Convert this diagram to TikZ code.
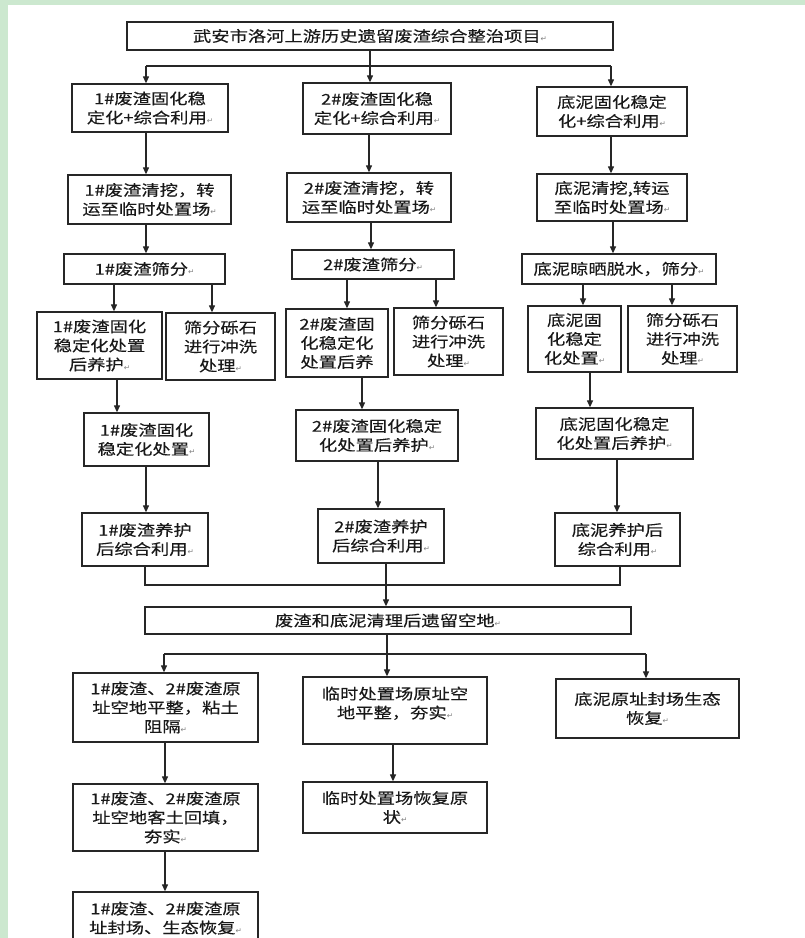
\documentclass[tikz,border=0pt]{standalone}
\usepackage{fontspec}
\newfontfamily\cjk[FakeStretch=1.22,FakeBold=0.3]{Noto Sans CJK SC}
\newfontfamily\symf{DejaVu Sans}
\usetikzlibrary{arrows.meta}
\definecolor{bandgreen}{RGB}{204,232,207}
\newcommand{\parmk}{{\symf\fontsize{7.5}{7.5}\selectfont\color{black!50}↵}}
\newcommand\bx[6]{\node[box,minimum width={#4pt-#2pt},minimum height={#5pt-#3pt}] (#1) at ({(#2+#4)/2},{(#3+#5)/2}) {#6};}
\begin{document}
\begin{tikzpicture}[x=1pt,y=-1pt,
  box/.style={draw=black!85, line width=1.3pt, fill=white, align=center, inner sep=0pt,
    font=\cjk\fontsize{15}{19}\selectfont, text=black!90},
  arr/.style={draw=black!85, line width=1.2pt, -{Triangle[length=7pt,width=6pt]}},
  ln/.style={draw=black!85, line width=1.2pt}]
\useasboundingbox (0,0) rectangle (805,938);
\fill[white] (0,0) rectangle (805,938);
\clip (0,0) rectangle (805,938);
\fill[bandgreen] (0,0) rectangle (8,938);
\fill[bandgreen] (0,0) rectangle (805,5);

% boxes
\bx{top}{127}{22}{613}{50}{武安市洛河上游历史遗留废渣综合整治项目\parmk}
\bx{A1}{72}{84}{228}{132}{1\#废渣固化稳\\定化+综合利用\parmk}
\bx{B1}{303}{83}{451}{134}{2\#废渣固化稳\\定化+综合利用\parmk}
\bx{C1}{537}{87}{687}{136}{底泥固化稳定\\化+综合利用\parmk}
\bx{A2}{68}{175}{231}{224}{1\#废渣清挖，转\\运至临时处置场\parmk}
\bx{B2}{287}{173}{451}{222}{2\#废渣清挖，转\\运至临时处置场\parmk}
\bx{C2}{537}{174}{687}{221}{底泥清挖,转运\\至临时处置场\parmk}
\bx{A3}{64}{254}{225}{284}{1\#废渣筛分\parmk}
\bx{B3}{292}{250}{454}{279}{2\#废渣筛分\parmk}
\bx{C3}{522}{254}{716}{284}{底泥晾晒脱水，筛分\parmk}
\bx{A4}{37}{312}{162}{379}{1\#废渣固化\\稳定化处置\\后养护\parmk}
\bx{A5}{166}{313}{275}{380}{筛分砾石\\进行冲洗\\处理\parmk}
\bx{B4}{286}{309}{388}{377}{2\#废渣固\\化稳定化\\处置后养}
\bx{B5}{394}{308}{503}{375}{筛分砾石\\进行冲洗\\处理\parmk}
\bx{C4}{528}{306}{621}{372}{底泥固\\化稳定\\化处置\parmk}
\bx{C5}{628}{306}{737}{372}{筛分砾石\\进行冲洗\\处理\parmk}
\bx{A6}{84}{413}{209}{466}{1\#废渣固化\\稳定化处置\parmk}
\bx{B6}{296}{410}{458}{461}{2\#废渣固化稳定\\化处置后养护\parmk}
\bx{C6}{536}{408}{693}{459}{底泥固化稳定\\化处置后养护\parmk}
\bx{A7}{82}{513}{208}{566}{1\#废渣养护\\后综合利用\parmk}
\bx{B7}{318}{509}{444}{563}{2\#废渣养护\\后综合利用\parmk}
\bx{C7}{555}{513}{680}{566}{底泥养护后\\综合利用\parmk}
\bx{D}{145}{607}{631}{634}{废渣和底泥清理后遗留空地\parmk}
\bx{E1}{73}{673}{258}{742}{1\#废渣、2\#废渣原\\址空地平整，粘土\\阻隔\parmk}
\bx{E2}{303}{677}{487}{744}{临时处置场原址空\\地平整，夯实\parmk\\[-3pt]\mbox{}}
\bx{E3}{556}{679}{739}{738}{底泥原址封场生态\\恢复\parmk}
\bx{F1}{73}{784}{258}{851}{1\#废渣、2\#废渣原\\址空地客土回填，\\夯实\parmk}
\bx{F2}{303}{782}{487}{833}{临时处置场恢复原\\状\parmk}
\bx{G1}{73}{892}{258}{962}{1\#废渣、2\#废渣原\\址封场、生态恢复\parmk\\ }

% top split
\coordinate (j1) at (370,66);
\coordinate (jL) at (146,66);
\coordinate (jR) at (611,66);
\draw[ln] (top.south) -- (j1);
\draw[ln] (jL) -- (jR);
\draw[arr] (jL) -- (jL |- A1.north);
\draw[arr] (j1) -- (j1 |- B1.north);
\draw[arr] (jR) -- (jR |- C1.north);

% column arrows
\draw[arr] (A1.south -| 146,0) -- (A2.north -| 146,0);
\draw[arr] (B1.south -| 369,0) -- (B2.north -| 369,0);
\draw[arr] (C1.south -| 611,0) -- (C2.north -| 611,0);
\draw[arr] (A2.south -| 146,0) -- (A3.north -| 146,0);
\draw[arr] (B2.south -| 371,0) -- (B3.north -| 371,0);
\draw[arr] (C2.south -| 613,0) -- (C3.north -| 613,0);
\draw[arr] (A3.south -| 114,0) -- (A4.north -| 114,0);
\draw[arr] (A3.south -| 212,0) -- (A5.north -| 212,0);
\draw[arr] (B3.south -| 347,0) -- (B4.north -| 347,0);
\draw[arr] (B3.south -| 436,0) -- (B5.north -| 436,0);
\draw[arr] (C3.south -| 583,0) -- (C4.north -| 583,0);
\draw[arr] (C3.south -| 672,0) -- (C5.north -| 672,0);
\draw[arr] (A4.south -| 117,0) -- (A6.north -| 117,0);
\draw[arr] (B4.south -| 362,0) -- (B6.north -| 362,0);
\draw[arr] (C4.south -| 590,0) -- (C6.north -| 590,0);
\draw[arr] (A6.south -| 146,0) -- (A7.north -| 146,0);
\draw[arr] (B6.south -| 378,0) -- (B7.north -| 378,0);
\draw[arr] (C6.south -| 617,0) -- (C7.north -| 617,0);

% merge
\coordinate (m1) at (145,585);
\coordinate (m3) at (620,585);
\draw[ln] (A7.south -| m1) -- (m1) -- (m3) -- (C7.south -| m3);
\draw[arr] (B7.south -| 386,0) -- (D.north -| 386,0);

% lower split
\coordinate (k2) at (387,654);
\coordinate (kL) at (164,654);
\coordinate (kR) at (646,654);
\draw[ln] (D.south -| k2) -- (k2);
\draw[ln] (kL) -- (kR);
\draw[arr] (kL) -- (kL |- E1.north);
\draw[arr] (k2) -- (k2 |- E2.north);
\draw[arr] (kR) -- (kR |- E3.north);

\draw[arr] (E1.south -| 165,0) -- (F1.north -| 165,0);
\draw[arr] (E2.south -| 393,0) -- (F2.north -| 393,0);
\draw[arr] (F1.south -| 165,0) -- (G1.north -| 165,0);
\end{tikzpicture}
\end{document}
